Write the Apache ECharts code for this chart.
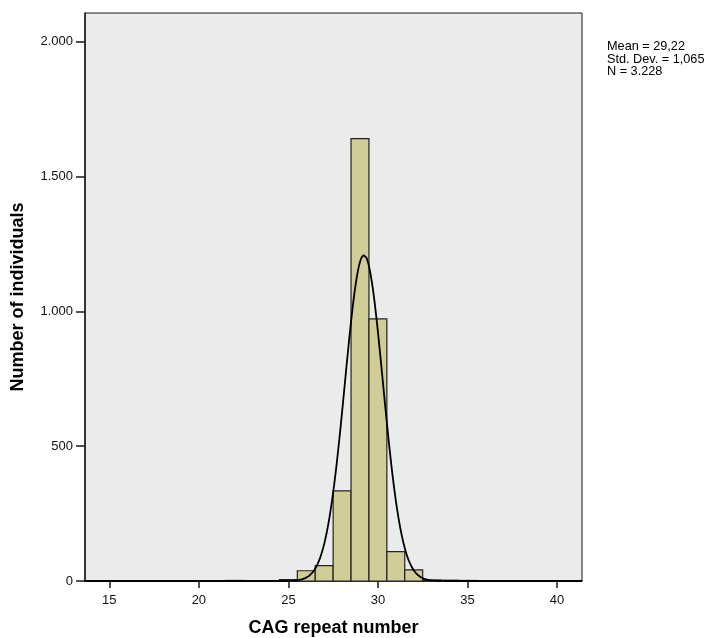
<!DOCTYPE html>
<html>
<head>
<meta charset="utf-8">
<script src="https://cdn.jsdelivr.net/npm/echarts@6/dist/echarts.min.js"></script>
<style>
  html, body { margin: 0; padding: 0; background: #fff; }
  #chart { width: 718px; height: 638px; }
</style>
</head>
<body>
<div id="chart"></div>
<script>
// histogram bins (centre of each 1-wide bin) and counts
var binCentres = [18, 20, 22, 23, 24, 25, 26, 27, 28, 29, 30, 31, 32, 33, 34, 35];
var binCounts  = [1, 1, 2, 1, 1, 5, 38, 57, 334, 1641, 972, 109, 41, 4, 3, 2];

var xTicks = [15, 20, 25, 30, 35, 40];
var yTicks = [0, 500, 1000, 1500, 2000];

// summary stats printed next to the plot
var statMean = 29.22;
var statSD = 1.065;
var statN = 3228;
var statLines = ['Mean = 29,22', 'Std. Dev. = 1,065', 'N = 3.228'];

var FONT = 'Arial, "Liberation Sans", sans-serif';

var chart = echarts.init(document.getElementById('chart'));

// normal curve overlay defined by the printed mean / sd / N (bin width 1)
var curve = [];
for (var x = 13.6; x <= 41.4; x += 0.05) {
    var z = (x - statMean) / statSD;
    curve.push([x, statN / (statSD * Math.sqrt(2 * Math.PI)) * Math.exp(-0.5 * z * z)]);
}

var bars = binCentres.map(function (c, i) { return [c, binCounts[i]]; });

function fmtThousands(v) {
    return String(v).replace(/\B(?=(\d{3})+(?!\d))/g, '.');
}

var option = {
    animation: false,
    backgroundColor: '#ffffff',
    grid: {
        left: 85, right: 136, top: 13, bottom: 57,
        outerBoundsMode: 'none',
        show: true,
        backgroundColor: '#ebebeb',
        borderColor: '#1a1a1a',
        borderWidth: 1
    },
    xAxis: {
        type: 'value',
        min: 13.64,
        max: 41.4,
        name: 'CAG repeat number',
        nameLocation: 'middle',
        nameGap: 38,
        nameTextStyle: { fontFamily: FONT, fontWeight: 'bold', fontSize: 18, color: '#000' },
        splitLine: { show: false },
        axisLine: { show: true, lineStyle: { color: '#1a1a1a', width: 1.5 } },
        axisTick: { show: true, length: 7, customValues: xTicks, lineStyle: { color: '#1a1a1a', width: 1.5 } },
        axisLabel: { customValues: xTicks, margin: 13, fontFamily: FONT, fontSize: 13, color: '#111' }
    },
    yAxis: {
        type: 'value',
        min: 0,
        max: 2107,
        name: 'Number of individuals',
        nameLocation: 'middle',
        nameGap: 58,
        nameRotate: 90,
        nameTextStyle: { fontFamily: FONT, fontWeight: 'bold', fontSize: 18, color: '#000' },
        splitLine: { show: false },
        axisLine: { show: true, lineStyle: { color: '#1a1a1a', width: 1.5 } },
        axisTick: { show: true, length: 9, customValues: yTicks, lineStyle: { color: '#1a1a1a', width: 1.5 } },
        axisLabel: {
            customValues: yTicks, margin: 12, fontFamily: FONT, fontSize: 13, color: '#111',
            formatter: function (v) { return fmtThousands(v); }
        }
    },
    series: [
        {
            type: 'custom',
            data: bars,
            renderItem: function (params, api) {
                var c = api.value(0), v = api.value(1);
                var p0 = api.coord([c - 0.5, v]);
                var p1 = api.coord([c + 0.5, 0]);
                return {
                    type: 'rect',
                    shape: { x: p0[0], y: p0[1], width: p1[0] - p0[0], height: p1[1] - p0[1] },
                    style: { fill: '#d0cd97', stroke: '#222', lineWidth: 1.2 }
                };
            },
            z: 2
        },
        {
            type: 'line',
            data: curve,
            showSymbol: false,
            smooth: false,
            lineStyle: { color: '#000', width: 1.8 },
            z: 3
        }
    ],
    graphic: [{
        type: 'text',
        left: 607,
        top: 40,
        style: {
            text: statLines.join('\n'),
            fontFamily: FONT,
            fontSize: 12.7,
            lineHeight: 12.7,
            fill: '#000'
        }
    }]
};

chart.setOption(option);
</script>
</body>
</html>
